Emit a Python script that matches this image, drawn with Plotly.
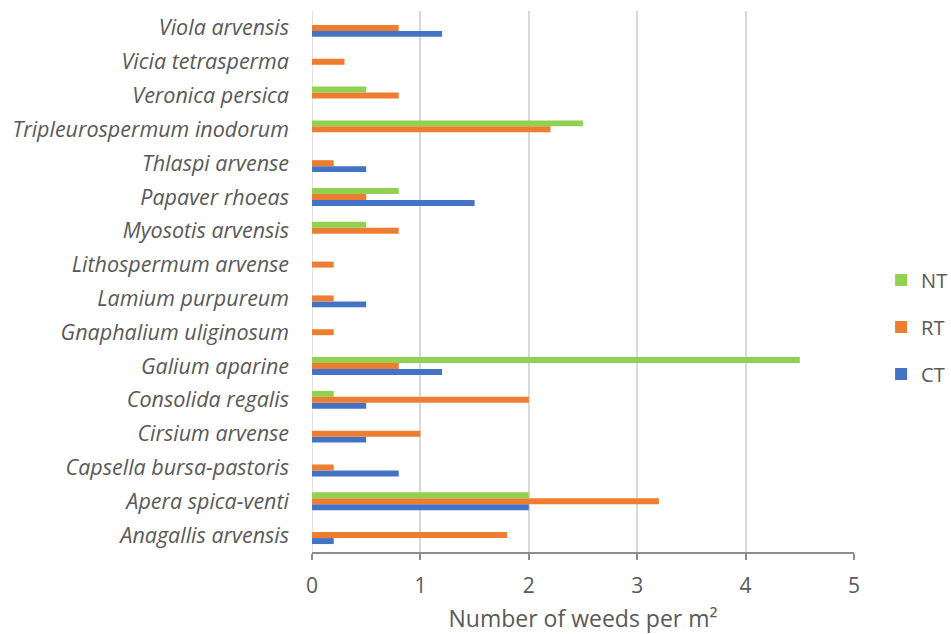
import plotly.graph_objects as go

species = [
    "Anagallis arvensis", "Apera spica-venti", "Capsella bursa-pastoris",
    "Cirsium arvense", "Consolida regalis", "Galium aparine",
    "Gnaphalium uliginosum", "Lamium purpureum", "Lithospermum arvense",
    "Myosotis arvensis", "Papaver rhoeas", "Thlaspi arvense",
    "Tripleurospermum inodorum", "Veronica persica", "Vicia tetrasperma",
    "Viola arvensis",
]
ct = [0.2, 2.0, 0.8, 0.5, 0.5, 1.2, 0, 0.5, 0, 0, 1.5, 0.5, 0, 0, 0, 1.2]
rt = [1.8, 3.2, 0.2, 1.0, 2.0, 0.8, 0.2, 0.2, 0.2, 0.8, 0.5, 0.2, 2.2, 0.8, 0.3, 0.8]
nt = [0, 2.0, 0, 0, 0.2, 4.5, 0, 0, 0, 0.5, 0.8, 0, 2.5, 0.5, 0, 0]

x_ticks = [0, 1, 2, 3, 4, 5]

# (name, values, colour, legend rank) - CT drawn lowest in each group, NT on top
series = [("CT", ct, "#4472C4", 3), ("RT", rt, "#ED7D31", 2), ("NT", nt, "#92D050", 1)]

fig = go.Figure()
for name, vals, color, rank in series:
    fig.add_trace(go.Bar(
        y=species, x=vals, name=name, orientation="h",
        marker=dict(color=color, line=dict(width=0)),
        legendgroup=name, legendrank=rank,
    ))

text_color = "#595959"
font_family = "Open Sans, Noto Sans, sans-serif"
fig.update_layout(
    width=951, height=634,
    margin=dict(l=312, r=97, t=11, b=82, autoexpand=False),
    paper_bgcolor="white", plot_bgcolor="white",
    barmode="group", bargap=0.47, bargroupgap=0,
    font=dict(family=font_family, color=text_color, size=20),
    legend=dict(
        x=1.05, xanchor="left", y=0.416, yanchor="middle",
        traceorder="grouped", tracegroupgap=18,
        font=dict(size=20, color=text_color),
        itemwidth=30,
    ),
    xaxis=dict(
        range=[0, 5], tickvals=x_ticks, ticktext=[str(t) for t in x_ticks],
        showgrid=True, gridcolor="#D9D9D9", gridwidth=1.5,
        zeroline=False,
        showline=True, linecolor="#8C8C8C", linewidth=1.5,
        ticks="outside", ticklen=6, tickcolor="#8C8C8C", tickwidth=1.5,
        tickfont=dict(size=21), ticklabelstandoff=8,
        title=dict(text="Number of weeds per m²", font=dict(size=23), standoff=22),
        fixedrange=True,
    ),
    yaxis=dict(
        categoryorder="array", categoryarray=species,
        showgrid=False, zeroline=False, showline=False, ticks="",
        tickfont=dict(size=21.5, style="italic"), ticklabelstandoff=22,
        fixedrange=True,
    ),
)
fig.add_shape(type="line", xref="x", yref="paper", x0=0, x1=0, y0=0, y1=1,
              line=dict(color="#D9D9D9", width=1.5), layer="below")

fig.write_html("out.html")
